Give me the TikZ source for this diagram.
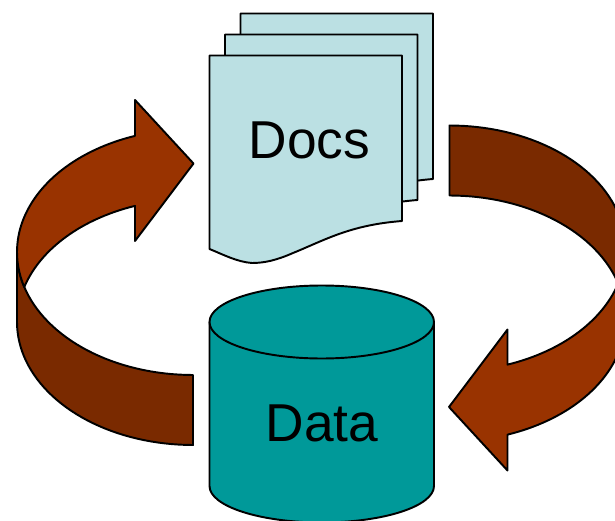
\documentclass[tikz,border=0pt]{standalone}
\usepackage{fontspec}
\setmainfont{Liberation Sans}
\definecolor{arrowlight}{HTML}{993300}
\definecolor{arrowdark}{HTML}{7A2A00}
\definecolor{docfill}{HTML}{BBE0E3}
\definecolor{datafill}{HTML}{009999}
\tikzset{
  outline/.style={draw=black,line width=1.45pt,line join=round},
  arrowtop/.style={outline,fill=arrowlight},
  arrowside/.style={outline,fill=arrowdark},
  docpage/.style={outline,fill=docfill},
  datashape/.style={outline,fill=datafill},
  biglabel/.style={inner sep=0pt,font=\fontsize{40pt}{44pt}\selectfont,text=black},
}
\newcommand{\turnarrow}{%
  \path[arrowside] (17,252) -- (17,322)
    -- plot[domain=0:90,samples=40] ({193-176*cos(\x)},{322+123*sin(\x)})
    -- (193,375)
    -- plot[domain=90:0,samples=40] ({193-176*cos(\x)},{252+123*sin(\x)})
    -- cycle;
  \path[arrowtop] (135,100) -- (135,136)
    -- plot[domain=70.76:0,samples=40] ({193-176*cos(\x)},{252-123*sin(\x)})
    -- plot[domain=0:16.5,samples=8] ({193-176*cos(\x)},{252+123*sin(\x)})
    -- plot[domain=16.5:70.76,samples=30] ({193-176*cos(\x)},{322-123*sin(\x)})
    -- (135,241) -- (193.5,163.5) -- cycle;
}
\newcommand{\docsheet}[2]{%
  \path[docpage,shift={(#1,#2)}] (209.5,55.5) -- (402,55.5) -- (402,221)
    .. controls (350,225) and (325,240) .. (293,253)
    .. controls (277,260) and (265,263) .. (252,263)
    .. controls (237,262) and (222,254) .. (209.5,249) -- cycle;
}
\begin{document}
\begin{tikzpicture}[x=0.75pt,y=-0.75pt]
\useasboundingbox (0,0) rectangle (615,521);
\begin{scope}
  \clip (0,0) rectangle (615,521);
  \turnarrow
  \begin{scope}[rotate around={180:(321.25,285.25)}]
    \turnarrow
  \end{scope}
  \docsheet{31}{-42}
  \docsheet{15.5}{-21}
  \docsheet{0}{0}
  \path[datashape] (209.5,322) -- (209.5,486)
    arc[start angle=180,end angle=360,x radius=112.25,y radius=-36.5]
    -- (434,322) -- cycle;
  \path[datashape] (321.75,322) ellipse[x radius=112.25,y radius=36.5];
\end{scope}
\node[biglabel] (docs) at (309.5,140) {Docs};
\node[biglabel] (data) at (322,423) {Data};
\end{tikzpicture}
\end{document}
